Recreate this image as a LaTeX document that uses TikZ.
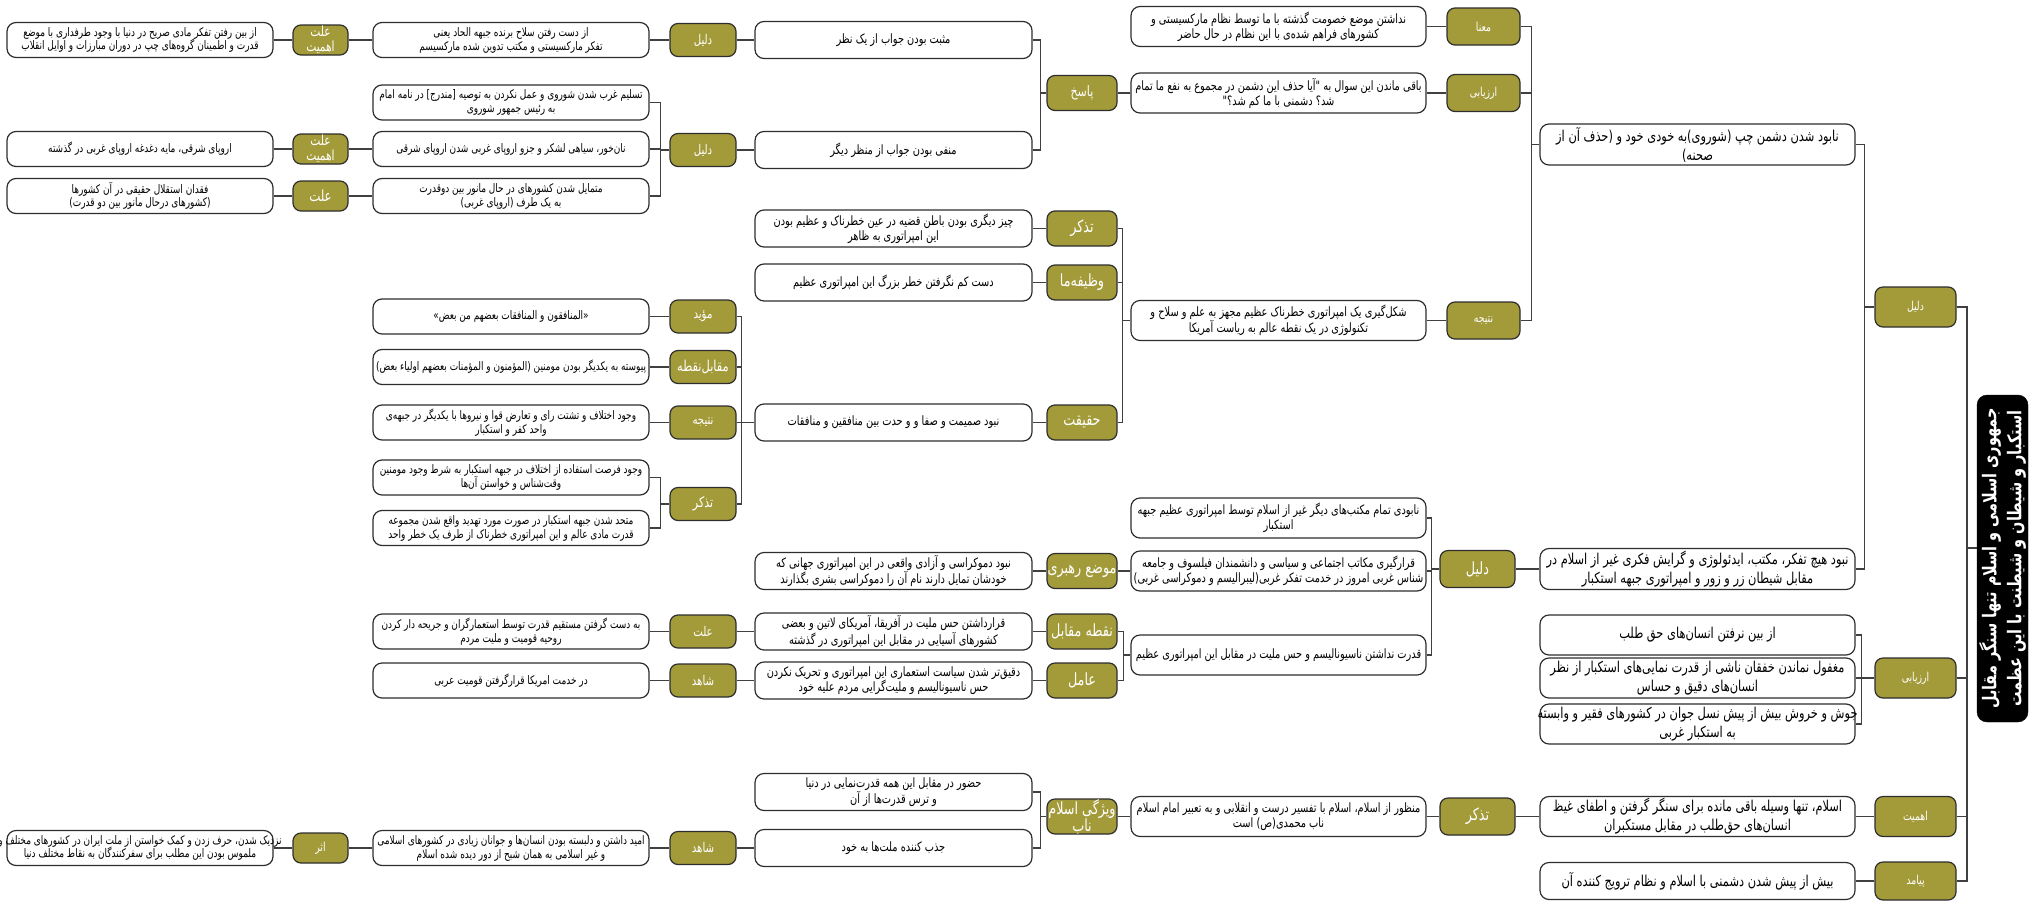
\documentclass[tikz,border=0pt]{standalone}
\usepackage{fontspec}
\TeXXeTstate=1
\newfontfamily\fa[Script=Arabic,FakeStretch=0.76]{DejaVu Sans}
\newcommand\fs[2]{\fa\fontsize{#1}{#2}\selectfont}
\newcommand\frl[1]{\beginR #1\endR}
\newcommand\Ln[1]{\makebox[0pt][c]{\frl{#1}}}
\definecolor{olv}{HTML}{A39A3A}
\definecolor{edge}{HTML}{2E2E2E}
\newcommand\kids[3]{%
  \coordinate (j#1) at ([xshift=-#2]#1.west);
  \draw[conn] (#1.west) -- (j#1);
  \foreach \c in {#3}{\draw[conn] (\c.east) -| (j#1);}
}
\newcommand\pair[2]{\draw[conn] (#1.east) -- (#2.west);}
\tikzset{
  conn/.style={draw=black!75, line width=1.3pt},
  wb/.style={draw=edge, line width=1.2pt, rounded corners=9pt, fill=white, align=center, inner sep=0pt, text=black},
  wA/.style={wb, minimum width=266, minimum height=35, font=\fs{11.8}{13.5}},
  wB/.style={wb, minimum width=276, minimum height=35, font=\fs{11.8}{14}},
  wC/.style={wb, minimum width=277, minimum height=37, font=\fs{12.9}{15}},
  wD/.style={wb, minimum width=295, minimum height=40, font=\fs{12.9}{15}},
  wE/.style={wb, minimum width=315, minimum height=40, font=\fs{15}{19}},
  ol/.style={draw=edge, line width=1.2pt, rounded corners=8pt, fill=olv, text=white, align=center, inner sep=0pt},
  oA/.style={ol, minimum width=55, minimum height=30, font=\fs{14}{15}},
  oB/.style={ol, minimum width=66, minimum height=33, font=\fs{13.4}{15}},
  oC/.style={ol, minimum width=70, minimum height=35, font=\fs{16.8}{17}},
  oD/.style={ol, minimum width=73, minimum height=37, font=\fs{12.3}{14}},
  oE/.style={ol, minimum width=81, minimum height=40, font=\fs{12.3}{14}},
  rootbox/.style={fill=black, draw=black, rounded corners=10pt, text=white, align=center, inner sep=0pt, minimum width=327, minimum height=51, font={\fs{19}{25}\bfseries}},
}
\begin{document}
\begin{tikzpicture}[x=1pt,y=-1pt]
\useasboundingbox[fill=white] (0,0) rectangle (2044,902);
% root
\node[rootbox, rotate=90] (root) at (2002.5,558.5) {\Ln{جمهوری اسلامی و اسلام تنها سنگر مقابل}\\\Ln{استکبار و شیطان و شیطنت با این عظمت}};
% level 1
\node[oE] (e1) at (1915.5,307) {\Ln{دلیل}};
\node[oE] (e2) at (1915.5,678) {\Ln{ارزیابی}};
\node[oE] (e3) at (1915.5,816.5) {\Ln{اهمیت}};
\node[oE, minimum height=38] (e4) at (1915.5,881) {\Ln{پیامد}};
% E boxes
\node[wE, minimum height=41] (E1) at (1697.5,144.5) {\Ln{نابود شدن دشمن چپ (شوروی)به خودی خود و (حذف آن از}\\\Ln{صحنه)}};
\node[wE, minimum height=41] (E2) at (1697.5,569) {\Ln{نبود هیچ تفکر، مکتب، ایدئولوژی و گرایش فکری غیر از اسلام در}\\\Ln{مقابل شیطان زر و زور و امپراتوری جبهه استکبار}};
\node[wE] (E3) at (1697.5,635) {\Ln{از بین نرفتن انسان‌های حق طلب}};
\node[wE] (E4) at (1697.5,678) {\Ln{مغفول نماندن خفقان ناشی از قدرت نمایی‌های استکبار از نظر}\\\Ln{انسان‌های دقیق و حساس}};
\node[wE] (E5) at (1697.5,724) {\Ln{جوش و خروش بیش از پیش نسل جوان در کشورهای فقیر و وابسته}\\\Ln{به استکبار غربی}};
\node[wE] (E6) at (1697.5,816.5) {\Ln{اسلام، تنها وسیله باقی مانده برای سنگر گرفتن و اطفای غیظ}\\\Ln{انسان‌های حق‌طلب در مقابل مستکبران}};
\node[wE, minimum height=37] (E7) at (1697.5,881) {\Ln{بیش از پیش شدن دشمنی با اسلام و نظام ترویج کننده آن}};
% D olive
\node[oD] (dm) at (1483.5,26.5) {\Ln{معنا}};
\node[oD] (da) at (1483.5,93) {\Ln{ارزیابی}};
\node[oD] (dn) at (1483.5,320.5) {\Ln{نتیجه}};
\node[oD, minimum width=75, font=\fs{16.8}{17}] (dL) at (1477.5,569) {\Ln{دلیل}};
\node[oD, minimum width=75, font=\fs{16.8}{17}] (dT) at (1477.5,816.5) {\Ln{تذکر}};
% D boxes
\node[wD] (D1) at (1278.5,26.5) {\Ln{نداشتن موضع خصومت گذشته با ما توسط نظام مارکسیستی و}\\\Ln{کشورهای فراهم شده‌ی با این نظام در حال حاضر}};
\node[wD] (D2) at (1278.5,93) {\Ln{باقی ماندن این سوال به "آیا حذف این دشمن در مجموع به نفع ما تمام}\\\Ln{شد؟ دشمنی با ما کم شد؟"}};
\node[wD] (D3) at (1278.5,320.5) {\Ln{شکل‌گیری یک امپراتوری خطرناک عظیم مجهز به علم و سلاح و}\\\Ln{تکنولوژی در یک نقطه عالم به ریاست آمریکا}};
\node[wD] (D4) at (1278.5,518) {\Ln{نابودی تمام مکتب‌های دیگر غیر از اسلام توسط امپراتوری عظیم جبهه}\\\Ln{استکبار}};
\node[wD] (D5) at (1278.5,571) {\Ln{قرارگیری مکاتب اجتماعی و سیاسی و دانشمندان فیلسوف و جامعه}\\\Ln{شناس غربی امروز در خدمت تفکر غربی(لیبرالیسم و دموکراسی غربی)}};
\node[wD] (D6) at (1278.5,655) {\Ln{قدرت نداشتن ناسیونالیسم و حس ملیت در مقابل این امپراتوری عظیم}};
\node[wD] (D7) at (1278.5,816.5) {\Ln{منظور از اسلام، اسلام با تفسیر درست و انقلابی و به تعبیر امام اسلام}\\\Ln{ناب محمدی(ص) است}};
% C olive
\node[oC, font=\fs{14.5}{15}] (cp) at (1082,93) {\Ln{پاسخ}};
\node[oC] (cT) at (1082,228.5) {\Ln{تذکر}};
\node[oC] (cW) at (1082,282.5) {\Ln{وظیفه‌ما}};
\node[oC] (cH) at (1082,422.5) {\Ln{حقیقت}};
\node[oC] (cMR) at (1082,571) {\Ln{موضع رهبری}};
\node[oC] (cNM) at (1082,631.5) {\Ln{نقطه مقابل}};
\node[oC] (cA) at (1082,680.5) {\Ln{عامل}};
\node[oC] (cV) at (1082,816.5) {\Ln{ویژگی اسلام}\\\Ln{ناب}};
% C boxes
\node[wC] (C1) at (893.5,40) {\Ln{مثبت بودن جواب از یک نظر}};
\node[wC] (C2) at (893.5,150) {\Ln{منفی بودن جواب از منظر دیگر}};
\node[wC] (C3) at (893.5,228.5) {\Ln{چیز دیگری بودن باطن قضیه در عین خطرناک و عظیم بودن}\\\Ln{این امپراتوری به ظاهر}};
\node[wC] (C4) at (893.5,282.5) {\Ln{دست کم نگرفتن خطر بزرگ این امپراتوری عظیم}};
\node[wC] (C5) at (893.5,422.5) {\Ln{نبود صمیمت و صفا و و حدت بین منافقین و منافقات}};
\node[wC] (C6) at (893.5,571) {\Ln{نبود دموکراسی و آزادی واقعی در این امپراتوری جهانی که}\\\Ln{خودشان تمایل دارند نام آن را دموکراسی بشری بگذارند}};
\node[wC] (C7) at (893.5,631.5) {\Ln{قرارداشتن حس ملیت در آفریقا، آمریکای لاتین و بعضی}\\\Ln{کشورهای آسیایی در مقابل این امپراتوری در گذشته}};
\node[wC] (C8) at (893.5,680.5) {\Ln{دقیق‌تر شدن سیاست استعماری این امپراتوری و تحریک نکردن}\\\Ln{حس ناسیونالیسم و ملیت‌گرایی مردم علیه خود}};
\node[wC] (C9) at (893.5,792) {\Ln{حضور در مقابل این همه قدرت‌نمایی در دنیا}\\\Ln{و ترس قدرت‌ها از آن}};
\node[wC] (C10) at (893.5,848) {\Ln{جذب کننده ملت‌ها به خود}};
% B olive
\node[oB] (bA) at (703,40) {\Ln{دلیل}};
\node[oB] (bD) at (703,150) {\Ln{دلیل}};
\node[oB] (bM) at (703,316.5) {\Ln{مؤید}};
\node[oB, font=\fs{15}{15}] (bMN) at (703,367) {\Ln{مقابل‌نقطه}};
\node[oB] (bN) at (703,422.5) {\Ln{نتیجه}};
\node[oB, font=\fs{14.5}{15}] (bT) at (703,504) {\Ln{تذکر}};
\node[oB] (bE) at (703,631.5) {\Ln{علت}};
\node[oB] (bS) at (703,680.5) {\Ln{شاهد}};
\node[oB] (bS2) at (703,848) {\Ln{شاهد}};
% B boxes
\node[wB] (B1) at (511,40) {\Ln{از دست رفتن سلاح برنده جبهه الحاد یعنی}\\\Ln{تفکر مارکسیستی و مکتب تدوین شده مارکسیسم}};
\node[wB] (B2) at (511,102.5) {\Ln{تسلیم غرب شدن شوروی و عمل نکردن به توصیه [مندرج] در نامه امام}\\\Ln{به رئیس جمهور شوروی}};
\node[wB] (B3) at (511,149) {\Ln{نان‌خور، سیاهی لشکر و جزو اروپای غربی شدن اروپای شرقی}};
\node[wB] (B4) at (511,196) {\Ln{متمایل شدن کشورهای در حال مانور بین دوقدرت}\\\Ln{به یک طرف (اروپای غربی)}};
\node[wB] (B5) at (511,316.5) {\Ln{«المنافقون و المنافقات بعضهم من بعض»}};
\node[wB] (B6) at (511,367) {\Ln{پیوسته به یکدیگر بودن مومنین (المؤمنون و المؤمنات بعضهم اولیاء بعض)}};
\node[wB] (B7) at (511,422.5) {\Ln{وجود اختلاف و تشتت رای و تعارض قوا و نیروها با یکدیگر در جبهه‌ی}\\\Ln{واحد کفر و استکبار}};
\node[wB] (B8) at (511,477.5) {\Ln{وجود فرصت استفاده از اختلاف در جبهه استکبار به شرط وجود مومنین}\\\Ln{وقت‌شناس و خواستن آن‌ها}};
\node[wB] (B9) at (511,528) {\Ln{متحد شدن جبهه استکبار در صورت مورد تهدید واقع شدن مجموعه}\\\Ln{قدرت مادی عالم و این امپراتوری خطرناک از طرف یک خطر واحد}};
\node[wB] (B10) at (511,631.5) {\Ln{به دست گرفتن مستقیم قدرت توسط استعمارگران و جریحه دار کردن}\\\Ln{روحیه قومیت و ملیت مردم}};
\node[wB] (B11) at (511,680.5) {\Ln{در خدمت امریکا قرارگرفتن قومیت عربی}};
\node[wB] (B12) at (511,848) {\Ln{امید داشتن و دلبسته بودن انسان‌ها و جوانان زیادی در کشورهای اسلامی}\\\Ln{و غیر اسلامی به همان شبح از دور دیده شده اسلام}};
% A olive
\node[oA] (aA1) at (320.5,40) {\Ln{علت}\\\Ln{اهمیت}};
\node[oA] (aA2) at (320.5,149) {\Ln{علت}\\\Ln{اهمیت}};
\node[oA, font=\fs{15.5}{16}] (aA3) at (320.5,196) {\Ln{علت}};
\node[oA, font=\fs{12.3}{14}] (aAs) at (320.5,848) {\Ln{اثر}};
% A boxes
\node[wA] (A1) at (140,40) {\Ln{از بین رفتن تفکر مادی صریح در دنیا با وجود طرفداری با موضع}\\\Ln{قدرت و اطمینان گروه‌های چپ در دوران مبارزات و اوایل انقلاب}};
\node[wA] (A2) at (140,149) {\Ln{اروپای شرقی، مایه دغدغه اروپای غربی در گذشته}};
\node[wA] (A3) at (140,196) {\Ln{فقدان استقلال حقیقی در آن کشورها}\\\Ln{(کشورهای درحال مانور بین دو قدرت)}};
\node[wA] (A4) at (140,848) {\Ln{نزدیک شدن، حرف زدن و کمک خواستن از ملت ایران در کشورهای مختلف و}\\\Ln{ملموس بودن این مطلب برای سفرکنندگان  به نقاط مختلف دنیا}};
% connectors
\coordinate (tr) at (1967,548);
\draw[conn] ([yshift=10.5pt]root.north) -- (tr);
\foreach \c in {e1,e2,e3,e4}{\draw[conn] (\c.east) -| (tr);}
\kids{e1}{10}{E1,E2}
\kids{e2}{13}{E3,E4,E5}
\pair{E6}{e3}
\pair{E7}{e4}
\kids{E1}{8}{dm,da,dn}
\pair{D1}{dm}
\pair{D2}{da}
\pair{D3}{dn}
\pair{cp}{D2}
\kids{cp}{6}{C1,C2}
\pair{bA}{C1}
\pair{B1}{bA}
\pair{aA1}{B1}
\pair{A1}{aA1}
\pair{bD}{C2}
\kids{bD}{9}{B2,B3,B4}
\pair{aA2}{B3}
\pair{A2}{aA2}
\pair{aA3}{B4}
\pair{A3}{aA3}
\kids{D3}{8}{cT,cW,cH}
\pair{C3}{cT}
\pair{C4}{cW}
\pair{C5}{cH}
\kids{C5}{13}{bM,bMN,bN,bT}
\pair{B5}{bM}
\pair{B6}{bMN}
\pair{B7}{bN}
\kids{bT}{9}{B8,B9}
\pair{dL}{E2}
\kids{dL}{8}{D4,D5,D6}
\pair{cMR}{D5}
\pair{C6}{cMR}
\kids{D6}{7}{cNM,cA}
\pair{C7}{cNM}
\pair{bE}{C7}
\pair{B10}{bE}
\pair{C8}{cA}
\pair{bS}{C8}
\pair{B11}{bS}
\pair{dT}{E6}
\pair{D7}{dT}
\pair{cV}{D7}
\kids{cV}{6}{C9,C10}
\pair{bS2}{C10}
\pair{B12}{bS2}
\pair{aAs}{B12}
\pair{A4}{aAs}
\end{tikzpicture}
\end{document}
